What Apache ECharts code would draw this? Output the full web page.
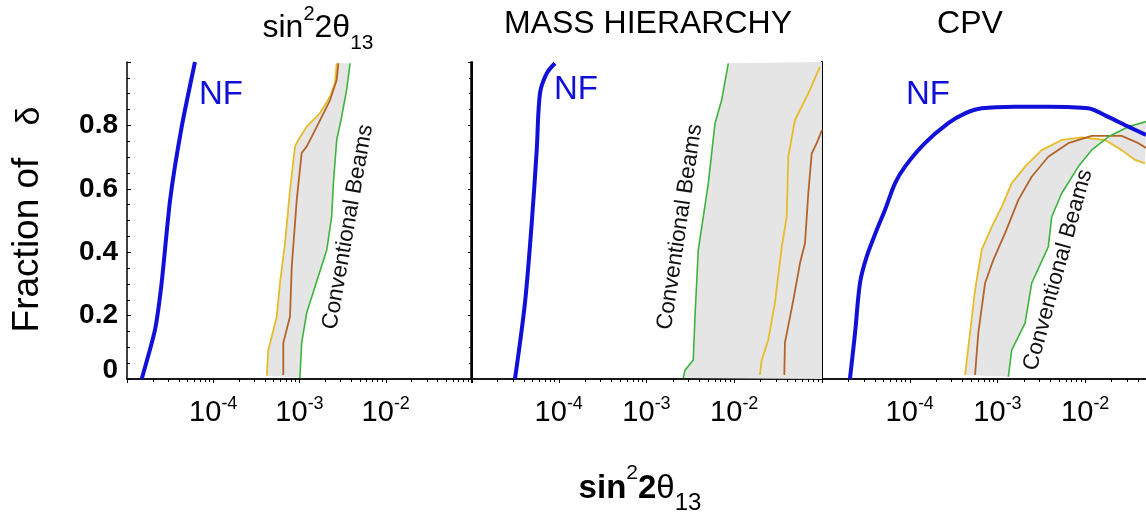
<!DOCTYPE html>
<html>
<head>
<meta charset="utf-8">
<script src="https://cdn.jsdelivr.net/npm/echarts@6/dist/echarts.min.js"></script>
<style>
html,body{margin:0;padding:0;background:#fff;}
#chart{width:1146px;height:515px;}
</style>
</head>
<body>
<div id="chart"></div>
<script>
// ---- tick labels ----
const xTickExps = [-4, -3, -2];
const yTickLabels = ['0', '0.2', '0.4', '0.6', '0.8'];
const panelTitles = ['sin22θ13', 'MASS HIERARCHY', 'CPV'];

// ---- Panel 1: sin^2 2theta13 discovery  [sin^2 2theta13, fraction of delta] ----
const nf1 = [[1.48e-5,0],[2.11e-5,0.155],[2.52e-5,0.303],[3.16e-5,0.565],[4.31e-5,0.796],[6.14e-5,1.0]];
const yellow1 = [[4.17e-4,0.01],[4.35e-4,0.091],[5.45e-4,0.197],[5.94e-4,0.303],[6.79e-4,0.429],[7.76e-4,0.596],[8.87e-4,0.733],[9.68e-4,0.754],[1.21e-3,0.796],[1.73e-3,0.839],[2.26e-3,0.891],[2.58e-3,0.934],[2.70e-3,0.996]];
const brown1 = [[6.49e-4,0.013],[6.49e-4,0.114],[7.76e-4,0.197],[8.13e-4,0.354],[9.29e-4,0.565],[1.06e-3,0.713],[1.21e-3,0.733],[1.45e-3,0.775],[1.81e-3,0.827],[2.26e-3,0.880],[2.70e-3,0.943],[2.82e-3,0.996]];
const green1 = [[1.01e-3,0.003],[1.06e-3,0.114],[1.21e-3,0.208],[1.65e-3,0.323],[2.07e-3,0.407],[2.36e-3,0.512],[2.47e-3,0.617],[2.70e-3,0.754],[3.08e-3,0.827],[3.52e-3,0.912],[3.86e-3,0.996]];

// ---- Panel 2: mass hierarchy ----
const nf2 = [[3.17e-5,0],[4.12e-5,0.240],[4.92e-5,0.492],[5.61e-5,0.722],[6.11e-5,0.901],[7.29e-5,0.964],[9.05e-5,0.996]];
const green2 = [[2.62e-3,0.003],[2.75e-3,0.028],[3.41e-3,0.060],[3.57e-3,0.197],[3.89e-3,0.407],[4.44e-3,0.512],[5.06e-3,0.617],[6.04e-3,0.807],[7.19e-3,0.880],[8.55e-3,0.996]];
const yellow2 = [[1.96e-2,0.013],[2.06e-2,0.060],[2.44e-2,0.123],[2.91e-2,0.240],[3.48e-2,0.417],[3.96e-2,0.512],[4.13e-2,0.701],[4.92e-2,0.817],[6.98e-2,0.901],[9.48e-2,0.985]];
const brown2 = [[3.72e-2,0.013],[3.78e-2,0.114],[4.71e-2,0.249],[5.61e-2,0.365],[6.40e-2,0.428],[6.98e-2,0.586],[7.64e-2,0.712],[8.71e-2,0.744],[1.0e-1,0.785]];

// ---- Panel 3: CP violation ----
const nf3 = [[2.08e-5,0],[2.38e-5,0.145],[2.71e-5,0.303],[3.23e-5,0.386],[4.20e-5,0.470],[5.22e-5,0.533],[6.79e-5,0.617],[8.83e-5,0.670],[1.49e-4,0.744],[2.75e-4,0.807],[4.27e-4,0.838],[6.61e-4,0.854],[1.58e-3,0.859],[3.79e-3,0.859],[1.08e-2,0.854],[1.83e-2,0.827],[3.10e-2,0.796],[4.92e-2,0.770]];
const yellow3 = [[4.27e-4,0.013],[4.86e-4,0.145],[5.55e-4,0.281],[6.61e-4,0.407],[8.59e-4,0.480],[1.12e-3,0.544],[1.45e-3,0.617],[2.06e-3,0.670],[3.19e-3,0.722],[5.40e-3,0.754],[9.12e-3,0.762],[1.68e-2,0.754],[2.60e-2,0.722],[3.69e-2,0.691],[4.80e-2,0.680]];
const brown3 = [[5.55e-4,0.013],[6.04e-4,0.145],[7.21e-4,0.302],[8.95e-4,0.375],[1.22e-3,0.460],[1.73e-3,0.565],[2.45e-3,0.638],[3.79e-3,0.701],[6.41e-3,0.744],[1.18e-2,0.767],[2.60e-2,0.767],[4.03e-2,0.744],[4.92e-2,0.729]];
const green3 = [[1.33e-3,0.007],[1.45e-3,0.091],[2.06e-3,0.176],[2.45e-3,0.302],[3.79e-3,0.417],[4.15e-3,0.512],[5.40e-3,0.586],[8.34e-3,0.670],[1.18e-2,0.722],[1.83e-2,0.764],[3.10e-2,0.796],[4.92e-2,0.812]];

const X_MIN = 1e-5, X_MAX = 1e-1;

const C_BLUE = '#1010d8', C_YEL = '#e6bc28', C_BRN = '#b4642a', C_GRN = '#3cb43c', C_FILL = '#e5e5e5';
const FONT = "'Liberation Sans', Arial, sans-serif";

const grids = [
  {left:127, top:62, width:345, height:317},
  {left:471, top:62, width:351, height:317},
  {left:822, top:62, width:351, height:317}
];

const xAxes = [], yAxes = [];
grids.forEach((g, i) => {
  xAxes.push({
    type:'log', logBase:10, gridIndex:i, min:X_MIN, max:X_MAX, position:'bottom',
    axisLine:{show:true, lineStyle:{color:'#333', width:1.5}},
    axisTick:{show:false}, splitLine:{show:false},
    axisLabel:{
      show:true, margin:16, fontFamily:FONT,
      formatter: v => {
        const e = Math.round(Math.log10(v));
        return xTickExps.indexOf(e) >= 0 ? '{b|10}{s|' + e + '}' : '';
      },
      rich:{
        b:{fontSize:29, fontFamily:FONT, color:'#000', verticalAlign:'bottom', lineHeight:32},
        s:{fontSize:18, fontFamily:FONT, color:'#000', verticalAlign:'top', lineHeight:32}
      }
    }
  });
  xAxes.push({
    type:'log', logBase:10, gridIndex:i, min:X_MIN, max:X_MAX, position:'top',
    axisLine:{show:true, lineStyle:{color:'#000', width:1.5}},
    axisTick:{show:true, inside:true, length:4, lineStyle:{color:'#000'}},
    minorTick:{show:true, splitNumber:9, length:3, lineStyle:{color:'#000'}},
    axisLabel:{show:false}, splitLine:{show:false}
  });
  yAxes.push({
    type:'value', gridIndex:i, min:0, max:1, interval:0.2, position:'left',
    axisLine:{show:true, lineStyle:{color:'#000', width:1.5}},
    axisTick:{show:i===0, inside:true, length:4, lineStyle:{color:'#000'}},
    minorTick:{show:i===0, splitNumber:4, length:3, lineStyle:{color:'#000'}},
    splitLine:{show:false},
    axisLabel:{
      show:i===0, margin:9,
      formatter: v => {
        const idx = Math.round(v / 0.2);
        if (idx >= yTickLabels.length) return '';
        return idx === 0 ? '{z|' + yTickLabels[0] + '}' : '{n|' + yTickLabels[idx] + '}';
      },
      rich:{
        n:{fontSize:28, fontWeight:'bold', fontFamily:FONT, color:'#000'},
        z:{fontSize:28, fontWeight:'bold', fontFamily:FONT, color:'#000', padding:[0,0,18,0]}
      }
    }
  });
  yAxes.push({
    type:'value', gridIndex:i, min:0, max:1, interval:0.2, position:'right',
    axisLine:{show:true, lineStyle:{color:'#000', width:2}},
    axisTick:{show:true, inside:true, length:4, lineStyle:{color:'#000'}},
    minorTick:{show:true, splitNumber:4, length:3, lineStyle:{color:'#000'}},
    splitLine:{show:false}, axisLabel:{show:false}
  });
});

function fillSeries(gi, pts) {
  return {
    type:'custom', xAxisIndex:gi*2, yAxisIndex:gi*2, data:[[1e-3, 0.5]], silent:true, z:1,
    renderItem:(params, api) => ({
      type:'polygon',
      shape:{points: pts.map(p => api.coord(p))},
      style:{fill:C_FILL, stroke:'none'}
    })
  };
}
function lineSeries(gi, data, color, width, smooth) {
  return {
    type:'line', xAxisIndex:gi*2, yAxisIndex:gi*2, data:data, showSymbol:false, symbol:'none',
    smooth:smooth || false, z:3, silent:true,
    lineStyle:{color:color, width:width}
  };
}

const series = [
  fillSeries(0, yellow1.concat(green1.slice().reverse())),
  lineSeries(0, yellow1, C_YEL, 1.8),
  lineSeries(0, brown1, C_BRN, 1.8),
  lineSeries(0, green1, C_GRN, 1.6),
  lineSeries(0, nf1, C_BLUE, 4, 0.2),

  fillSeries(1, green2.concat([[X_MAX, 1], [X_MAX, 0]])),
  lineSeries(1, green2, C_GRN, 1.6),
  lineSeries(1, yellow2, C_YEL, 1.8),
  lineSeries(1, brown2, C_BRN, 1.8),
  lineSeries(1, nf2, C_BLUE, 4, 0.3),

  fillSeries(2, yellow3.concat(green3.slice().reverse())),
  lineSeries(2, yellow3, C_YEL, 1.8),
  lineSeries(2, brown3, C_BRN, 1.8),
  lineSeries(2, green3, C_GRN, 1.6),
  lineSeries(2, nf3, C_BLUE, 4, 0.3)
];

function txt(x, y, text, opts) {
  return Object.assign({
    type:'text', x:x, y:y, z:100, silent:true,
    style:Object.assign({
      text:text, fontFamily:FONT, fill:'#000',
      align:'center', verticalAlign:'middle', textAlign:'center', textVerticalAlign:'middle'
    }, opts.style || {})
  }, opts.el || {});
}

const deg = Math.PI / 180;
const graphics = [
  // panel titles
  txt(318, 24, '{n|sin}{p|2}{n|2θ}{b|13}', {style:{rich:{
    n:{fontSize:32, fontFamily:FONT, verticalAlign:'bottom', lineHeight:40},
    p:{fontSize:20, fontFamily:FONT, verticalAlign:'top', lineHeight:28},
    b:{fontSize:21, fontFamily:FONT, verticalAlign:'bottom', lineHeight:30, padding:[0,0,-10,0]}
  }}}),
  txt(648, 24, panelTitles[1], {style:{fontSize:32}}),
  txt(970, 24, panelTitles[2], {style:{fontSize:32}}),
  // NF labels
  txt(221, 95, 'NF', {style:{fontSize:33, fill:C_BLUE}}),
  txt(576, 90, 'NF', {style:{fontSize:33, fill:C_BLUE}}),
  txt(928, 95, 'NF', {style:{fontSize:33, fill:C_BLUE}}),
  // Conventional Beams
  txt(348, 227, 'Conventional Beams', {style:{fontSize:22.5, fill:'#111'}, el:{rotation:80*deg}}),
  txt(680, 227, 'Conventional Beams', {style:{fontSize:22.5, fill:'#111'}, el:{rotation:81.5*deg}}),
  txt(1058, 270, 'Conventional Beams', {style:{fontSize:22.5, fill:'#111'}, el:{rotation:74.5*deg}}),
  // y axis title
  txt(28, 245, 'Fraction of', {style:{fontSize:37}, el:{rotation:90*deg}}),
  txt(30, 116, 'δ', {style:{fontSize:34}, el:{rotation:90*deg}}),
  // x axis title
  txt(640, 484, '{n|sin}{p|2}{n|2}{t|θ}{b|13}', {style:{rich:{
    n:{fontSize:33, fontWeight:'bold', fontFamily:FONT, verticalAlign:'bottom', lineHeight:42},
    p:{fontSize:21, fontFamily:FONT, verticalAlign:'top', lineHeight:28},
    t:{fontSize:33, fontFamily:FONT, verticalAlign:'bottom', lineHeight:42},
    b:{fontSize:24, fontFamily:FONT, verticalAlign:'bottom', lineHeight:30, padding:[0,0,-10,0]}
  }}})
];

const chart = echarts.init(document.getElementById('chart'), null, {renderer:'canvas'});
chart.setOption({
  animation:false,
  backgroundColor:'#fff',
  grid:grids.map(g => Object.assign({containLabel:false, outerBoundsMode:'none'}, g)),
  xAxis:xAxes,
  yAxis:yAxes,
  series:series,
  graphic:graphics
});
</script>
</body>
</html>
